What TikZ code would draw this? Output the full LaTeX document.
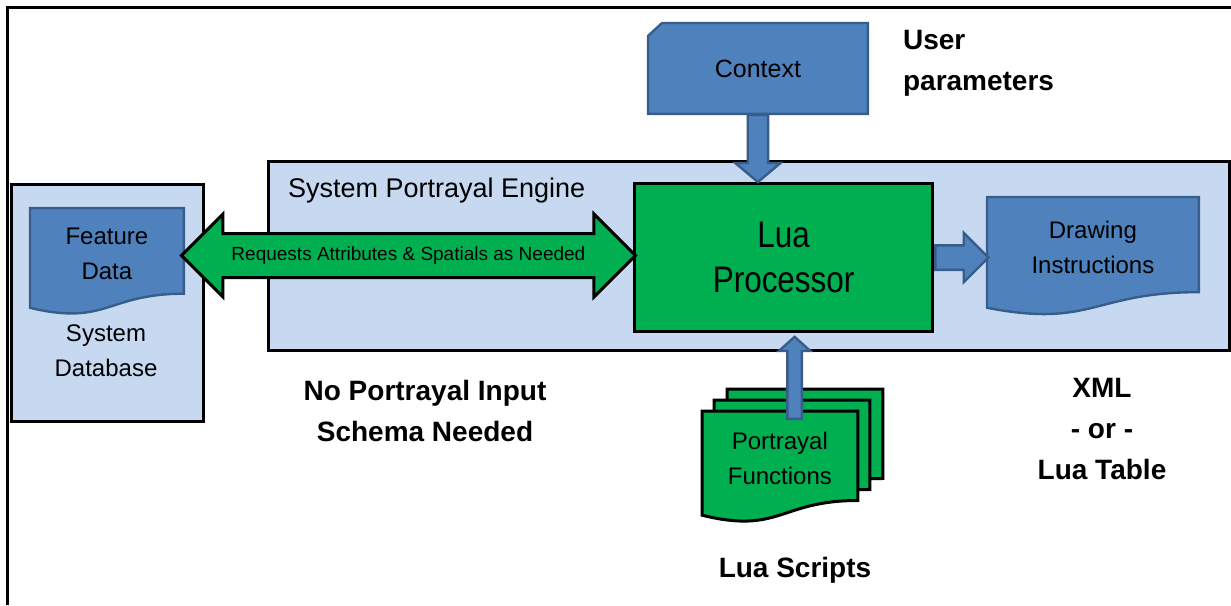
\documentclass[tikz,border=0pt]{standalone}
\usepackage{fontspec}
\setmainfont{Liberation Sans}
\newfontfamily\narrowfont{Liberation Sans}[FakeStretch=0.85]
\usetikzlibrary{calc,shapes.arrows}

\definecolor{panelblue}{HTML}{C6D9F1}
\definecolor{docblue}{HTML}{4F81BD}
\definecolor{docline}{HTML}{385D8A}
\definecolor{luagreen}{HTML}{00B050}

\pgfdeclarelayer{back}
\pgfdeclarelayer{mid}
\pgfsetlayers{back,mid,main}

% wavy document outline behind a named node (optional offset)
\newcommand{\docshape}[3][0,0]{%
  \begin{pgfonlayer}{mid}
  \draw[#3] ($(#2.north west)+(#1)$) -- ($(#2.north east)+(#1)$)
    -- ($(#2.north east)!0.944!(#2.south east)+(#1)$)
    .. controls ($(#2.north)!0.944!(#2.south)+(#1)$) and ($(#2.north)!1.302!(#2.south)+(#1)$)
    .. ($(#2.north west)!1.099!(#2.south west)+(#1)$) -- cycle;
  \end{pgfonlayer}}

\begin{document}
\begin{tikzpicture}[x=0.5pt, y=-0.5pt,
  panel/.style={draw=black, line width=1.5pt, fill=panelblue, anchor=north west, inner sep=0pt},
  doc/.style={anchor=north west, inner sep=0pt, align=center, font=\fontsize{12}{17.5}\selectfont},
  bluepage/.style={draw=docline, line width=1.2pt, fill=docblue},
  greenpage/.style={draw=black, line width=1.5pt, fill=luagreen},
  bluearrow/.style={single arrow, draw=docline, line width=1.2pt, fill=docblue, inner xsep=0pt},
  note/.style={align=center, font=\bfseries\fontsize{14}{20.5}\selectfont}]
\useasboundingbox (0,0) rectangle (1231,605);
% frame
\draw[line width=1.5pt] (7,605) -- (7,7) -- (1231,7);
% panels
\begin{pgfonlayer}{back}
\node[panel, minimum width=96pt, minimum height=118.5pt] (db) at (10,183) {};
\node[panel, minimum width=480.5pt, minimum height=94.5pt] (engine) at (267,160) {};
\end{pgfonlayer}
\node[anchor=west, font=\fontsize{13.5}{16}\selectfont] (enginelabel) at (281,191) {System Portrayal Engine};
\node[align=center, font=\fontsize{12}{17.5}\selectfont] (dblabel) at (106,351) {System\\Database};
% documents
\node[doc, minimum width=76.5pt, minimum height=45pt] (feat) at (30,208) {Feature\\Data};
\docshape{feat}{bluepage}
\node[doc, minimum width=105.5pt, minimum height=50pt] (draw) at (987,197) {Drawing\\Instructions};
\docshape{draw}{bluepage}
\node[doc, minimum width=77.5pt, minimum height=47pt] (pf) at (702,411) {Portrayal\\Functions};
\docshape[25,-22]{pf}{greenpage}
\docshape[12,-11]{pf}{greenpage}
\docshape{pf}{greenpage}
% context
\node[doc, minimum width=109.5pt, minimum height=45pt, font=\fontsize{12.5}{15}\selectfont] (ctx) at (648,23) {Context};
\begin{pgfonlayer}{mid}
\draw[bluepage] (ctx.south west) -- ($(ctx.north west)+(0,13)$) -- ($(ctx.north west)+(14,0)$)
  -- (ctx.north east) -- (ctx.south east) -- cycle;
\end{pgfonlayer}
% processor
\node[draw=black, line width=1.6pt, fill=luagreen, anchor=north west, align=center,
  minimum width=149pt, minimum height=74pt, font=\narrowfont\fontsize{18.5}{22.5}\selectfont] (lua) at (633,182) {Lua\\Processor};
% arrows
\node[bluearrow, rotate=-90, anchor=tail, minimum height=33.5pt, inner ysep=4.5pt,
  single arrow head extend=6.25pt, single arrow tip angle=100] (ctxarrow) at (ctx.south) {};
\node[bluearrow, anchor=tail, minimum height=26.5pt, inner ysep=5.5pt,
  single arrow head extend=6.25pt, single arrow tip angle=90] (outarrow) at (lua.east) {};
\node[bluearrow, rotate=90, anchor=tip, minimum height=41pt, inner ysep=3pt,
  single arrow head extend=4.25pt, single arrow tip angle=96] (fnarrow) at ($(lua.south)+(11,2)$) {};
\node[double arrow, draw=black, line width=1.5pt, fill=luagreen, minimum height=227pt,
  inner ysep=5.75pt, text height=7pt, text depth=2pt, double arrow head extend=9.75pt,
  double arrow tip angle=90, font=\fontsize{9.5}{11}\selectfont] (req)
  at ($(feat.east)!0.5!(lua.west)$) {Requests Attributes \& Spatials as Needed};
% captions
\node[note, align=left, anchor=west] (userlabel) at (896,63) {User\\parameters};
\node[note] (schemalabel) at (425,411) {No Portrayal Input\\Schema Needed};
\node[note] (outlabel) at (1102,429) {XML\\- or -\\Lua Table};
\node[note] (scriptlabel) at (795,570) {Lua Scripts};
\end{tikzpicture}
\end{document}
